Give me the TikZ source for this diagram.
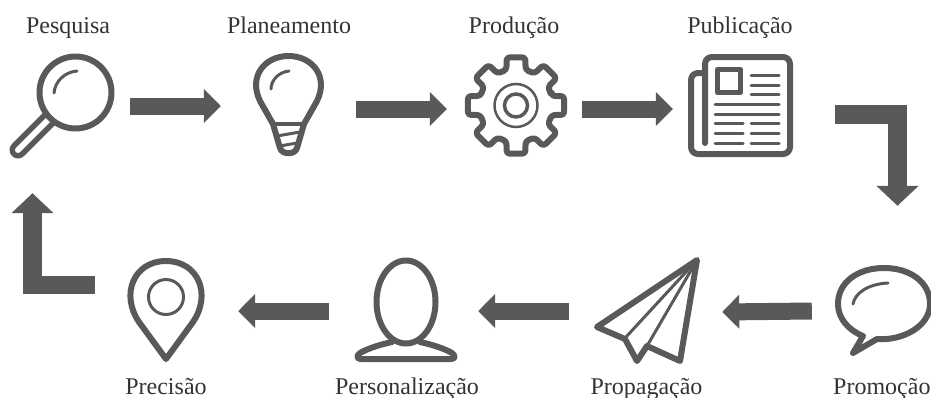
\documentclass[tikz,border=0pt]{standalone}
\usepackage{fontspec}
\setmainfont{Liberation Serif}
\usetikzlibrary{arrows.meta,calc,positioning}
\definecolor{icongray}{HTML}{58595B}
\definecolor{labelgray}{HTML}{333333}
\tikzstyle{arrow} = [draw=icongray, line width=17pt, -{Triangle[length=17pt 0 0,width=33pt 0 0]}]
\tikzstyle{bigarrow} = [draw=icongray, line width=18.5pt, -{Triangle[length=20pt 0 0,width=41pt 0 0]}]
\tikzstyle{icon} = [rectangle, inner sep=0pt]
\tikzstyle{label} = [anchor=base, inner sep=0pt, text=labelgray, font={\fontsize{24}{28}\selectfont}]
\tikzstyle{bold} = [draw=icongray, line width=6pt, line join=round, line cap=round]
\tikzstyle{thin} = [draw=icongray, line width=3pt, line cap=round]
\begin{document}
\begin{tikzpicture}[x=1pt, y=-1pt]
      \useasboundingbox (0,0) rectangle (931,397);
      \node [icon, minimum width=105pt, minimum height=105pt] at (62.5,105.5) (search) {};
      \node [icon, minimum width=71pt, minimum height=105pt] at (288.5,105.5) (bulb) {};
      \node [icon, minimum width=102pt, minimum height=105pt] at (516,105.5) (gear) {};
      \node [icon, minimum width=105pt, minimum height=105pt] at (740.5,105.5) (news) {};
      \node [icon, minimum width=96pt, minimum height=90pt] at (883,310) (talk) {};
      \node [icon, minimum width=101pt, minimum height=102pt] at (646.5,311) (plane) {};
      \node [icon, minimum width=102pt, minimum height=104pt] at (406,310) (person) {};
      \node [icon, minimum width=78pt, minimum height=104pt] at (166,310) (pin) {};
      \node [label] at (68,33) (pesquisa) {Pesquisa};
      \node [label] at (289,33) (planeamento) {Planeamento};
      \node [label] at (514,33) (producao) {Produção};
      \node [label] at (740,33) (publicacao) {Publicação};
      \node [label, anchor=base west] at (833,394) (promocao) {Promoção};
      \node [label] at (646.5,394) (propagacao) {Propagação};
      \node [label] at (407,394) (personalizacao) {Personalização};
      \node [label] at (166,394) (precisao) {Precisão};
      % magnifier
      \draw [icongray, line width=17pt, line cap=round] (52,116) -- (18,150);
      \draw [white, line width=6pt, line cap=round] (50,118) -- (18,150);
      \draw [bold, fill=white] (75.5,92.5) circle (36);
      \draw [thin] (54,93) .. controls (55,81) and (65,72) .. (77,71);
      % bulb
      \draw [bold, fill=white] (273,124) -- (260,101)
        .. controls (248,76) and (265,56) .. (288.5,56)
        .. controls (312,56) and (329,76) .. (317,101)
        -- (304,124) -- (297,148)
        .. controls (295,155) and (282,155) .. (280,148) -- cycle;
      \draw [bold, line width=4.5pt] (273,124) -- (304,124);
      \draw [thin] (277,136) -- (300,132);
      \draw [thin] (280,146) -- (297,143);
      \draw [thin] (271,89) .. controls (271,80) and (279,72) .. (289,71);
      % gear
      \draw [bold, rounded corners=3pt, line join=round, shift={(516,105.5)}]
        (-15:37) \foreach \a in {0,45,...,315} {
          -- (\a-15:37) -- (\a-11:49) -- (\a+11:49) -- (\a+15:37)
        } -- cycle;
      \draw [draw=icongray, line width=2.5pt] (516,105.5) circle (21.5);
      \draw [draw=icongray, line width=3.5pt] (516,105.5) circle (11.5);
      % newspaper
      \draw [bold, rounded corners=7pt] (705,143) -- (705,57) -- (790,57) -- (790,154) -- (691,154) -- (691,73) -- (705,73);
      \draw [bold, line width=5pt, line cap=butt, fill=white] (717.5,69.5) rectangle (740.5,92.5);
      \foreach \y in {75,85,94.5} {
        \draw [thin] (751,\y) -- (779,\y);
      }
      \foreach \y in {104,114} {
        \draw [thin] (715,\y) -- (779,\y);
      }
      \foreach \y in {123,133,143} {
        \draw [thin] (715,\y) -- (743,\y);
        \draw [thin] (751,\y) -- (779,\y);
      }
      % speech bubble
      \draw [bold] (877,339) .. controls (903,341) and (930,326) .. (930,304)
        .. controls (930,282) and (910,268) .. (884,268)
        .. controls (858,268) and (838,282) .. (838,304)
        .. controls (838,318) and (848,330) .. (863,336)
        -- (853,353) -- cycle;
      \draw [thin] (853,304) .. controls (855,293) and (868,284) .. (888,283);
      % paper plane
      \draw [bold] (697,260) -- (597,327) -- (625,339) -- (637,361) -- (647,346) -- (680,361) -- cycle;
      \draw [thin] (697,260) -- (626,337);
      \draw [thin] (697,260) -- (647,346);
      % person
      \draw [bold] (392,342) .. controls (378,345) and (367,349) .. (360,353)
        .. controls (356,356) and (357,359) .. (361,359)
        -- (451,359) .. controls (455,359) and (456,356) .. (452,353)
        .. controls (445,349) and (434,345) .. (420,342);
      \draw [bold, fill=white] (406,302) ellipse [x radius=29.5, y radius=41.5];
      % pin
      \draw [bold] (166,359) -- (139,322)
        .. controls (120,294) and (134,261) .. (166,261)
        .. controls (198,261) and (212,294) .. (193,322) -- cycle;
      \draw [draw=icongray, line width=3pt] (166,297) circle (17.5);
      % connectors
      \path [arrow] ($(search.east)+(15,0.5)$) -- ($(bulb.west)+(-32,0.5)$);
      \path [arrow] ($(bulb.east)+(32,3.5)$) -- ($(gear.west)+(-18,3.5)$);
      \path [arrow] ($(gear.east)+(15,3.5)$) -- ($(news.west)+(-15,3.5)$);
      \path [bigarrow] ($(news.east)+(42,9)$) -| ($(talk.north)+(14.5,-59)$);
      \path [arrow] ($(talk.west)+(-23,1)$) -- ($(plane.east)+(25,1)$);
      \path [arrow] ($(plane.west)+(-27,0)$) -- ($(person.east)+(21,1)$);
      \path [arrow] ($(person.west)+(-26,1)$) -- ($(pin.east)+(33,1)$);
      \path [bigarrow] ($(pin.west)+(-32,-25)$) -| ($(search.south)+(-30,35)$);
    \end{tikzpicture}
\end{document}
